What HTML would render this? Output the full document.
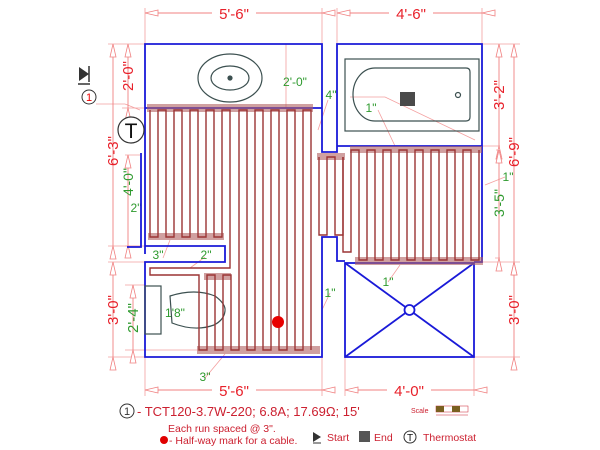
<!DOCTYPE html>
<html><head><meta charset="utf-8"><style>
html,body{margin:0;padding:0;background:#fff;}
svg{display:block;}
text{font-family:"Liberation Sans",sans-serif;}
</style></head><body>
<svg width="600" height="450" viewBox="0 0 600 450" xmlns="http://www.w3.org/2000/svg">
<defs>
<marker id="a" markerWidth="14" markerHeight="8" refX="0" refY="4" orient="auto" markerUnits="userSpaceOnUse">
<path d="M0 4 L13 1 L13 7 Z" fill="#fff" stroke="#f08080" stroke-width="0.8"/></marker>
</defs>
<g stroke="#f4a0a0" stroke-width="0.8" fill="none">
<path d="M145 8V44 M322 8V44 M337 8V44 M482 8V44"/>
<path d="M145 357V396 M322 357V396 M345 357V396 M474 357V396"/>
<path d="M108 44H145 M108 246H145 M108 262H145 M108 357H145 M122 108H145"/>
<path d="M482 44H520 M482 146H500 M482 262H520 M474 357H520"/>
<path d="M125 285H145 M125 350H200 M125 155H140 M125 246H140"/>
<path d="M286 44V108 M96 104H125 L140 110"/>
<path d="M350 97H385 L475 140 M378 110 L395 146 M505 177 L485 185 M328 100 L318 130 M330 293 L322 310 M388 282 L400 265 M205 378 L225 354 M163 258 L170 240 M205 257 L190 268 M496 150H500 M495 258H500"/>
</g>
<g stroke="#f08080" stroke-width="0.9" fill="none" marker-start="url(#a)" marker-end="url(#a)">
<path d="M145 13H322"/><path d="M337 13H482"/>
<path d="M145 390H322"/><path d="M345 390H474"/>
<path d="M113 44V246"/><path d="M128 44V108"/><path d="M113 262V357"/>
<path d="M133 285V350"/><path d="M128 155V245"/>
<path d="M499 44V146"/><path d="M514 44V262"/><path d="M499 150V258"/><path d="M514 262V357"/>
</g>
<g fill="#e8202a" font-size="15" text-anchor="middle">
<rect x="212" y="5" width="44" height="16" fill="#fff"/><text x="234" y="19">5'-6"</text>
<rect x="389" y="5" width="44" height="16" fill="#fff"/><text x="411" y="19">4'-6"</text>
<rect x="212" y="382" width="44" height="16" fill="#fff"/><text x="234" y="396">5'-6"</text>
<rect x="387" y="382" width="44" height="16" fill="#fff"/><text x="409" y="396">4'-0"</text>
<text transform="translate(118,151) rotate(-90)">6'-3"</text>
<text transform="translate(133,76) rotate(-90)">2'-0"</text>
<text transform="translate(118,310) rotate(-90)">3'-0"</text>
<text transform="translate(504,95) rotate(-90)">3'-2"</text>
<text transform="translate(519,152) rotate(-90)">6'-9"</text>
<text transform="translate(519,310) rotate(-90)">3'-0"</text>
</g>
<g fill="#2e9a2e" font-size="12" text-anchor="middle">
<text transform="translate(138,318) rotate(-90)" font-size="15">2'-4"</text>
<text transform="translate(133,182) rotate(-90)" font-size="14">4'-0"</text>
<text transform="translate(504,203) rotate(-90)" font-size="14">3'-5"</text>
<text x="295" y="86">2'-0"</text><text x="331" y="99">4"</text><text x="371" y="112">1"</text>
<text x="508" y="181">1"</text><text x="136" y="212">2"</text><text x="158" y="259">3"</text>
<text x="206" y="259">2"</text><text x="175" y="317">1'8"</text><text x="205" y="381">3"</text>
<text x="330" y="297">1"</text><text x="388" y="286">1"</text>
</g>
<g stroke="#1a1ad8" stroke-width="1.8" fill="none">
<path d="M145 254V44H322V152H337V44H482V262H474"/>
<path d="M145 108H322 M337 146H482"/>
<path d="M127 247H141V153"/>
<path d="M145 246H225V262H145V357H322V237H337V261H345"/>
<rect x="345" y="263" width="129" height="94"/>
<path d="M345 263L474 357M474 263L345 357"/>
<circle cx="409.5" cy="310" r="5" fill="#fff"/>
</g>
<g stroke="#3c5050" stroke-width="1.2" fill="none">
<ellipse cx="230" cy="78" rx="32" ry="24"/><ellipse cx="230" cy="78" rx="19" ry="12"/>
<circle cx="230" cy="78" r="2" fill="#3c5050"/>
<rect x="345" y="59" width="134" height="72"/>
<path d="M375 68H466Q470 68 470 72V117Q470 121 466 121H375A22 26.5 0 0 1 375 68Z"/>
<circle cx="458" cy="95" r="2.5"/>
<rect x="145" y="286" width="16" height="48"/>
<path d="M170 296Q195 288 215 296Q226 304 225 311Q224 320 214 325Q195 332 172 323Z"/>
</g>
<rect x="400" y="92" width="15" height="14" fill="#4a4a4a"/>
<g fill="#b06060" fill-opacity="0.6">
<rect x="147" y="104" width="166" height="8"/><rect x="148" y="233" width="76" height="7"/>
<rect x="204" y="273" width="27" height="7"/><rect x="197" y="346" width="123" height="8"/>
<rect x="317" y="153" width="28" height="7"/><rect x="350" y="146" width="132" height="7"/>
<rect x="355" y="257" width="128" height="8"/>
</g>
<g stroke="#9b3434" stroke-width="1.4" fill="none">
<path d="M150 110v127h8v-127h8v127h8v-127h8v127h8v-127h8v127h8v-127h8v127h8v-127h8v158h-80v7h49v75h8v-75h8v75h8v-75h8v75h8v-240h8v240h8v-240h8v240h8v-240h8v240h8v-240h8v240h8v-240h8v240"/>
<path d="M319 157v78h8v-78h8v78h8v-78"/>
<path d="M343 157v95h8v-102h8v110h8v-110h8v110h8v-110h8v110h8v-110h8v110h8v-110h8v110h8v-110h8v110h8v-110h8v110h8v-110h8v110h8v-110"/>
</g>
<circle cx="278" cy="322" r="6" fill="#e80000"/>
<circle cx="131" cy="130" r="13" fill="#fff" stroke="#333" stroke-width="1.2"/>
<text x="131" y="138" font-size="21" text-anchor="middle" fill="#111">T</text>
<path d="M79 67L89 74L79 81Z" fill="#333"/><path d="M89 66V82 M78 84H90" stroke="#333" stroke-width="1.5"/>
<circle cx="89" cy="97" r="7" fill="#fff" stroke="#333"/><text x="89" y="101" font-size="11" text-anchor="middle" fill="#e00">1</text>
<circle cx="127" cy="411" r="7" fill="#fff" stroke="#333"/><text x="127" y="415" font-size="11" text-anchor="middle" fill="#333">1</text>
<text x="137" y="416" font-size="13" fill="#cc2030">- TCT120-3.7W-220; 6.8A; 17.69Ω; 15'</text>
<text x="168" y="432" font-size="10.5" fill="#cc2030">Each run spaced @ 3".</text>
<circle cx="164" cy="440" r="4" fill="#e00000"/>
<text x="169" y="444" font-size="10.5" fill="#cc2030">- Half-way mark for a cable.</text>
<path d="M313 432L321 437L313 442Z" fill="#333"/><path d="M313 443H321" stroke="#333"/>
<text x="327" y="441" font-size="10.5" fill="#cc2030">Start</text>
<rect x="359" y="431" width="11" height="11" fill="#555"/>
<text x="374" y="441" font-size="10.5" fill="#cc2030">End</text>
<circle cx="410" cy="437" r="6" fill="#fff" stroke="#333"/><text x="410" y="441" font-size="10" text-anchor="middle" fill="#111">T</text>
<text x="423" y="441" font-size="10.5" fill="#cc2030">Thermostat</text>
<text x="411" y="413" font-size="7" fill="#cc2030">Scale</text>
<rect x="436" y="406" width="32" height="6" fill="#fff" stroke="#cc2030" stroke-width="0.5"/>
<rect x="436" y="406" width="8" height="6" fill="#7a6020"/><rect x="452" y="406" width="8" height="6" fill="#7a6020"/>
<path d="M436 415H468" stroke="#cc2030" stroke-width="0.5"/>
</svg>
</body></html>
